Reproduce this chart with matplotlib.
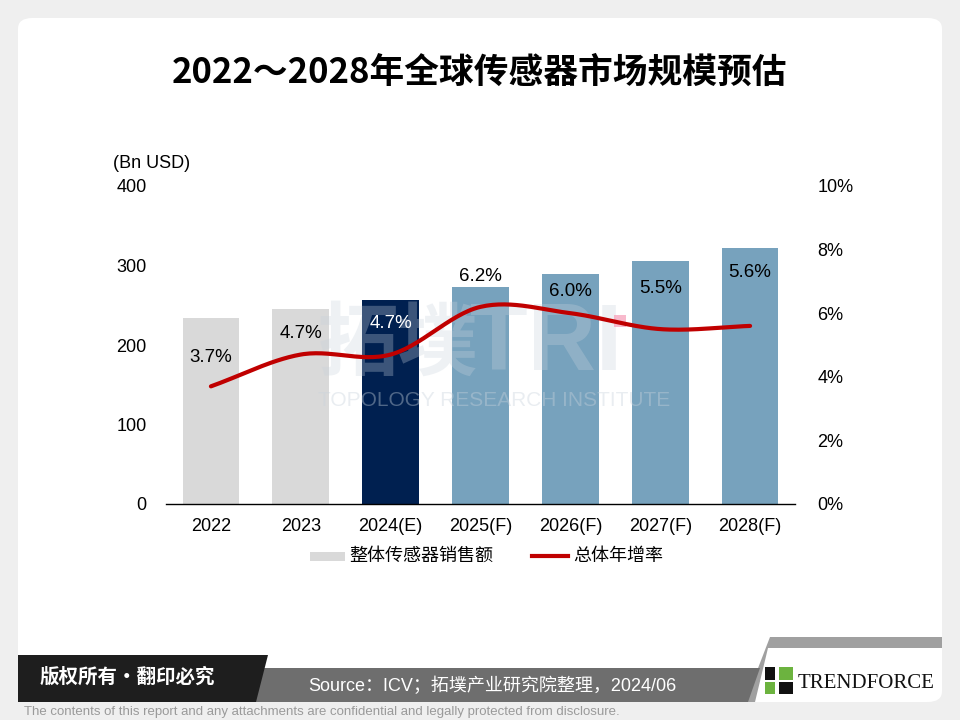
import matplotlib
matplotlib.use("Agg")
import matplotlib.pyplot as plt
import numpy as np
from matplotlib.patches import FancyBboxPatch, Polygon, Rectangle
from matplotlib.lines import Line2D

plt.rcParams['font.family'] = ['Liberation Sans', 'Noto Sans CJK SC', 'DejaVu Sans']

categories = ["2022", "2023", "2024(E)", "2025(F)", "2026(F)", "2027(F)", "2028(F)"]
sales = [234, 245, 257, 273, 289, 306, 322]
growth = [3.7, 4.7, 4.7, 6.2, 6.0, 5.5, 5.6]
growth_labels = ["3.7%", "4.7%", "4.7%", "6.2%", "6.0%", "5.5%", "5.6%"]
left_ticks = [0, 100, 200, 300, 400]
right_ticks = [0, 2, 4, 6, 8, 10]

bar_colors = ["#d9d9d9", "#d9d9d9", "#002050", "#77a2bd", "#77a2bd", "#77a2bd", "#77a2bd"]
label_colors = ["black", "black", "white", "black", "black", "black", "black"]
label_offsets_px = [29, 21, 31, 30, 22, 41, 53]

W, H = 960, 720
fig = plt.figure(figsize=(9.6, 7.2), dpi=100)
fig.patch.set_facecolor("#efefef")

def fx(x): return x / W
def fy(y): return 1 - y / H

# white card
card = FancyBboxPatch((fx(18), fy(702)), fx(924), (702 - 18) / H,
                      boxstyle="round,pad=0,rounding_size=0.015",
                      transform=fig.transFigure, facecolor="white", edgecolor="none", zorder=-5)
fig.patches.append(card)

# title
fig.text(0.5, fy(72), "2022～2028年全球传感器市场规模预估", ha="center", va="center",
         fontsize=25, fontweight="bold", family=["Noto Sans CJK SC"], color="black")

ax = fig.add_axes([fx(166), fy(504), (795 - 166) / W, (504 - 186) / H])
ax.set_facecolor("none")
x = np.arange(len(categories))
ax.bar(x, sales, width=0.63, color=bar_colors, zorder=2)
ax.set_xlim(-0.5, len(categories) - 0.5)
ax.set_ylim(0, 400)
ax.set_yticks(left_ticks)
ax.set_yticklabels([str(t) for t in left_ticks], fontsize=13)
ax.set_xticks(x)
ax.set_xticklabels(categories, fontsize=13)
for s in ["top", "right", "left"]:
    ax.spines[s].set_visible(False)
ax.spines["bottom"].set_color("black")
ax.spines["bottom"].set_linewidth(1.0)
ax.tick_params(axis="both", length=0)
ax.tick_params(axis="y", pad=14)
ax.tick_params(axis="x", pad=10)

ax2 = ax.twinx()
ax2.set_ylim(0, 10)
ax2.set_yticks(right_ticks)
ax2.set_yticklabels([f"{t}%" for t in right_ticks], fontsize=13)
for s in ["top", "right", "left", "bottom"]:
    ax2.spines[s].set_visible(False)
ax2.tick_params(axis="y", length=0, pad=16)

# watermark (drawn over bars, under line)
wm_color = "#c8d2dc"
ax2.text(fx(318), fy(345), "拓墣", fontsize=58, fontweight="bold", color=wm_color, alpha=0.3,
         family=["Noto Sans CJK SC"], va="center", ha="left", zorder=3, transform=fig.transFigure)
ax2.text(fx(470), fy(345), "TRI", fontsize=68, fontweight="bold", color=wm_color, alpha=0.3,
         va="center", ha="left", zorder=3, transform=fig.transFigure)
ax2.text(fx(318), fy(400), "TOPOLOGY RESEARCH INSTITUTE", fontsize=15, color=wm_color, alpha=0.4,
         va="center", ha="left", zorder=3, transform=fig.transFigure)
ax2.add_patch(Rectangle((fx(614), fy(327)), 12 / W, 12 / H, transform=fig.transFigure,
                        facecolor="#f7a8c0", edgecolor="none", alpha=0.8, zorder=3))

# smooth line (Catmull-Rom)
g = np.array(growth, dtype=float)
pts = np.column_stack([x, g])
ext = np.vstack([pts[0] - (pts[1] - pts[0]), pts, pts[-1] + (pts[-1] - pts[-2])])
xs, ys = [], []
for i in range(1, len(ext) - 2):
    p0, p1, p2, p3 = ext[i - 1], ext[i], ext[i + 1], ext[i + 2]
    for t in np.linspace(0, 1, 30, endpoint=(i == len(ext) - 3)):
        t2, t3 = t * t, t * t * t
        c = 0.5 * ((2 * p1) + (-p0 + p2) * t + (2 * p0 - 5 * p1 + 4 * p2 - p3) * t2 + (-p0 + 3 * p1 - 3 * p2 + p3) * t3)
        xs.append(c[0]); ys.append(c[1])
ax2.plot(xs, ys, color="#c00000", lw=3, solid_capstyle="round", zorder=5)

for xi, gi, lab, col, off in zip(x, g, growth_labels, label_colors, label_offsets_px):
    ax2.annotate(lab, (xi, gi), xytext=(0, off), textcoords="offset pixels",
                 ha="center", va="center", fontsize=13.5, color=col, zorder=6)

# y-axis unit
fig.text(fx(113), fy(163), "(Bn USD)", fontsize=13, ha="left", va="center")

# legend
fig.patches.append(Rectangle((fx(310), fy(561)), 35 / W, 9 / H, transform=fig.transFigure,
                             facecolor="#d9d9d9", edgecolor="none"))
fig.text(fx(349), fy(556), "整体传感器销售额", fontsize=13, ha="left", va="center",
         family=["Noto Sans CJK SC"])
fig.lines.append(Line2D([fx(532), fx(568)], [fy(556), fy(556)], transform=fig.transFigure,
                        color="#c00000", lw=3))
fig.text(fx(573), fy(556), "总体年增率", fontsize=13, ha="left", va="center",
         family=["Noto Sans CJK SC"])

# footer
fig.patches.append(Polygon([(fx(770), fy(637)), (fx(942), fy(637)), (fx(942), fy(648)), (fx(768), fy(648)),
                            (fx(755), fy(702)), (fx(745), fy(702))],
                           closed=True, transform=fig.transFigure, facecolor="#a0a0a0", edgecolor="none"))
fig.patches.append(Polygon([(fx(250), fy(668)), (fx(760), fy(668)), (fx(748), fy(702)), (fx(240), fy(702))],
                           closed=True, transform=fig.transFigure, facecolor="#6e6e6e", edgecolor="none"))
fig.patches.append(Polygon([(fx(18), fy(655)), (fx(268), fy(655)), (fx(256), fy(702)), (fx(18), fy(702))],
                           closed=True, transform=fig.transFigure, facecolor="#1e1e1e", edgecolor="none"))
fig.text(fx(40), fy(677), "版权所有·翻印必究", fontsize=14, fontweight="bold", color="white",
         ha="left", va="center", family=["Noto Sans CJK SC"])
fig.text(fx(308), fy(686), "Source：ICV；拓墣产业研究院整理，2024/06", fontsize=13, color="white",
         ha="left", va="center", family=["Liberation Sans", "Noto Sans CJK SC", "DejaVu Sans"])
# logo
fig.patches.append(Rectangle((fx(765), fy(680)), 10 / W, 13 / H, transform=fig.transFigure, facecolor="#111111"))
fig.patches.append(Rectangle((fx(779), fy(680)), 14 / W, 13 / H, transform=fig.transFigure, facecolor="#6cb33f"))
fig.patches.append(Rectangle((fx(765), fy(694)), 10 / W, 12 / H, transform=fig.transFigure, facecolor="#6cb33f"))
fig.patches.append(Rectangle((fx(779), fy(694)), 14 / W, 12 / H, transform=fig.transFigure, facecolor="#111111"))
fig.text(fx(798), fy(684), "TRENDFORCE", fontsize=15, color="#111111", ha="left", va="center",
         family=["Liberation Serif"])
fig.text(fx(24), fy(712), "The contents of this report and any attachments are confidential and legally protected from disclosure.",
         fontsize=9.5, color="#9a9a9a", ha="left", va="center",
         family=["Liberation Sans"])

fig.savefig("out.png", dpi=100, facecolor=fig.get_facecolor())
